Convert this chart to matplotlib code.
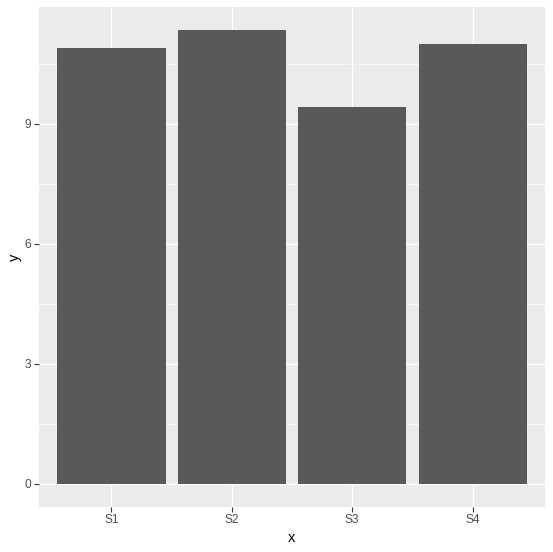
import matplotlib
matplotlib.use("Agg")
import matplotlib.pyplot as plt
from matplotlib.ticker import MultipleLocator

categories = ["S1", "S2", "S3", "S4"]
values = [10.9, 11.35, 9.43, 11.0]
y_ticks = [0, 3, 6, 9]

plt.rcParams["font.family"] = ["Liberation Sans", "DejaVu Sans"]

W, H = 553, 552
fig = plt.figure(figsize=(W / 100, H / 100), dpi=100)
fig.patch.set_facecolor("white")
ax = fig.add_axes([39 / W, (H - 506.7) / H, 506 / W, 499.7 / H])
ax.set_facecolor("#EBEBEB")

pos = list(range(1, len(categories) + 1))
ax.bar(pos, values, width=0.9, color="#595959", zorder=3)

ymax = max(values)
ax.set_ylim(-0.05 * ymax, 1.05 * ymax)
ax.set_xlim(0.4, len(categories) + 0.6)

ax.set_xticks(pos)
ax.set_xticklabels(categories)
ax.set_yticks(y_ticks)
ax.yaxis.set_minor_locator(MultipleLocator(1.5))

ax.grid(which="major", color="white", linewidth=1.0, zorder=1)
ax.grid(which="minor", axis="y", color="white", linewidth=0.5, zorder=1)

for s in ax.spines.values():
    s.set_visible(False)

ax.tick_params(which="major", length=3.5, width=0.8, color="#333333",
               labelcolor="#4D4D4D", labelsize=8.6, pad=2)
ax.tick_params(which="minor", length=0)

ax.set_xlabel("x", fontsize=10.5, color="black", labelpad=3)
ax.set_ylabel("y", fontsize=10.5, color="black", labelpad=2)

fig.savefig("out.png", dpi=100, facecolor=fig.get_facecolor())
